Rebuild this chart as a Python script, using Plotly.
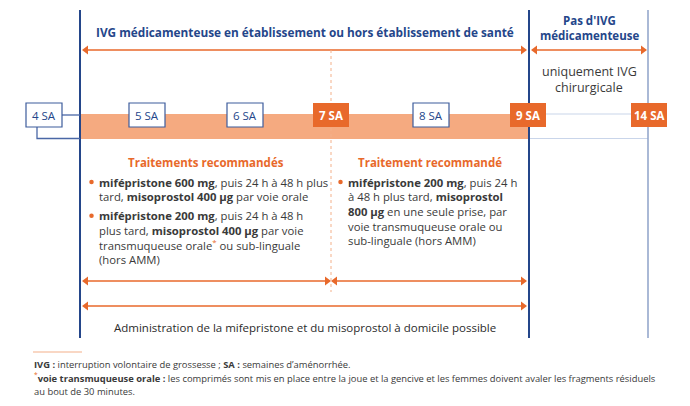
import plotly.graph_objects as go

# ---- data ----
week_labels = ["4 SA", "5 SA", "6 SA", "7 SA", "8 SA", "9 SA", "14 SA"]
week_highlight = [False, False, False, True, False, True, True]

title_main = "IVG médicamenteuse en établissement ou hors établissement de santé"
title_right = ["Pas d'IVG", "médicamenteuse"]
note_right = ["uniquement IVG", "chirurgicale"]
head_left = "Traitements recommandés"
head_right = "Traitement recommandé"
bottom_text = "Administration de la mifepristone et du misoprostol à domicile possible"

ORANGE = "#e8692b"
STAR = f"<sup><span style='color:{ORANGE}'>*</span></sup>"

bullets_left = [
    ["<b>mifépristone 600 mg</b>, puis 24 h à 48 h plus",
     "tard, <b>misoprostol 400 µg</b> par voie orale"],
    ["<b>mifépristone 200 mg</b>, puis 24 h à 48 h",
     "plus tard, <b>misoprostol 400 µg</b> par voie",
     f"transmuqueuse orale{STAR} ou sub-linguale",
     "(hors AMM)"],
]
bullets_right = [
    ["<b>mifépristone 200 mg</b>, puis 24 h",
     "à 48 h plus tard, <b>misoprostol</b>",
     "<b>800 µg</b> en une seule prise, par",
     "voie transmuqueuse orale ou",
     "sub-linguale (hors AMM)"],
]
footer_lines = [
    "<b>IVG :</b> interruption volontaire de grossesse ; <b>SA :</b> semaines d’aménorrhée.",
    f"{STAR}<b>voie transmuqueuse orale :</b> les comprimés sont mis en place entre la joue et la gencive et les femmes doivent avaler les fragments résiduels",
    "au bout de 30 minutes.",
]

# ---- layout constants (page pixel space; page body has an 8px margin) ----
OFF = 8
W, H = 690, 406
box_cx = [44, 147, 245, 331, 431, 528, 649]
BOX_W, BOX_H, BOX_Y = 36, 24, 115
X_START, X_9, X_14, X_7 = 80, 529, 648, 331
TOP, BOTTOM = 10, 338
LINE_H = 14.7

BLUE = "#24468a"
LBLUE = "#8ea2c8"
LORANGE = "#f5aa80"
TXT = "#3a3a3a"
FONT = "Open Sans"

fig = go.Figure()
shapes = []
ann = []

# orange band
shapes.append(dict(type="rect", x0=X_START, x1=X_9, y0=114, y1=139,
                   fillcolor=LORANGE, line=dict(width=0), layer="below"))
# light lines 9 -> 14
shapes.append(dict(type="line", x0=X_9, x1=X_14, y0=114, y1=114, line=dict(color="#c9d5ea", width=1.2)))
shapes.append(dict(type="line", x0=X_9, x1=X_14, y0=138.5, y1=138.5, line=dict(color="#c9d5ea", width=1.2)))
# dotted 7 SA line
shapes.append(dict(type="line", x0=X_7, x1=X_7, y0=50, y1=292, line=dict(color="#f3b08a", width=1, dash="dot")))
# vertical lines
shapes.append(dict(type="line", x0=X_START, x1=X_START, y0=TOP, y1=BOTTOM, line=dict(color=BLUE, width=2)))
shapes.append(dict(type="line", x0=X_9, x1=X_9, y0=TOP, y1=BOTTOM, line=dict(color=BLUE, width=2)))
shapes.append(dict(type="line", x0=X_14, x1=X_14, y0=TOP, y1=BOTTOM, line=dict(color=LBLUE, width=1.5)))
# 4 SA connectors
shapes.append(dict(type="line", x0=62, x1=X_START, y0=115, y1=115, line=dict(color="#4a67a6", width=1.3)))
shapes.append(dict(type="path", path=f"M 37 127 L 37 138.5 L {X_START} 138.5",
                   line=dict(color="#4a67a6", width=1.3)))

# week boxes
for lab, hl, cx in zip(week_labels, week_highlight, box_cx):
    shapes.append(dict(type="rect", x0=cx - BOX_W / 2, x1=cx + BOX_W / 2,
                       y0=BOX_Y - BOX_H / 2, y1=BOX_Y + BOX_H / 2,
                       fillcolor=ORANGE if hl else "white",
                       line=dict(color=ORANGE if hl else "#3d5c9c", width=0 if hl else 1.2)))
    ann.append(dict(x=cx, y=BOX_Y, text=f"<b>{lab}</b>" if hl else lab, showarrow=False,
                    font=dict(family=FONT, size=11.5, color="white" if hl else BLUE),
                    xanchor="center", yanchor="middle", borderpad=0))

# double arrows
def darrow(x0, x1, y):
    fig.add_trace(go.Scatter(x=[x0, x1], y=[y, y], mode="lines+markers",
                             line=dict(color=ORANGE, width=1.5),
                             marker=dict(symbol=["triangle-left", "triangle-right"], size=8,
                                         color=ORANGE, line=dict(width=0)),
                             hoverinfo="skip", showlegend=False))

darrow(86, 523, 50)
darrow(535, 643, 50)
darrow(86, 327, 281)
darrow(335, 523, 281)
darrow(86, 523, 306)

def text(x, y, t, size, color, anchor="center"):
    ann.append(dict(x=x, y=y, text=t, showarrow=False, borderpad=0,
                    font=dict(family=FONT, size=size, color=color),
                    xanchor=anchor, yanchor="middle"))

# titles
text(305, 32, f"<b>{title_main}</b>", 11.8, BLUE)
for i, t in enumerate(title_right):
    text(589, 20 + i * 15, f"<b>{t}</b>", 11.5, BLUE)
for i, t in enumerate(note_right):
    text(589, 71 + i * 16.3, t, 12.5, TXT)

text(206, 162, f"<b>{head_left}</b>", 11.5, ORANGE)
text(430, 162, f"<b>{head_right}</b>", 11.5, ORANGE)

# bullet blocks
bullet_x, bullet_y = [], []
def block(x, y, groups):
    for g in groups:
        bullet_x.append(x - 6.5)
        bullet_y.append(y)
        for line in g:
            text(x, y, line, 11.3, TXT, "left")
            y += LINE_H
        y += 4.3

block(98, 182, bullets_left)
block(347, 182, bullets_right)
fig.add_trace(go.Scatter(x=bullet_x, y=bullet_y, mode="markers",
                         marker=dict(symbol="circle", size=4.5, color=ORANGE),
                         hoverinfo="skip", showlegend=False))

text(305, 327, bottom_text, 11.5, "#2b2b2b")

# footer
shapes.append(dict(type="line", x0=33, x1=82, y0=352, y1=352, line=dict(color="#f3b08a", width=1.2)))
for i, t in enumerate(footer_lines):
    text(33, 364.5 + i * 13.5, t, 9.4, TXT, "left")

fig.update_layout(
    width=W - OFF, height=H - OFF, margin=dict(l=0, r=0, t=0, b=0),
    paper_bgcolor="white", plot_bgcolor="white",
    xaxis=dict(range=[OFF, W], visible=False, fixedrange=True),
    yaxis=dict(range=[H, OFF], visible=False, fixedrange=True),
    shapes=shapes, annotations=ann, showlegend=False,
)
fig.write_html("out.html")
